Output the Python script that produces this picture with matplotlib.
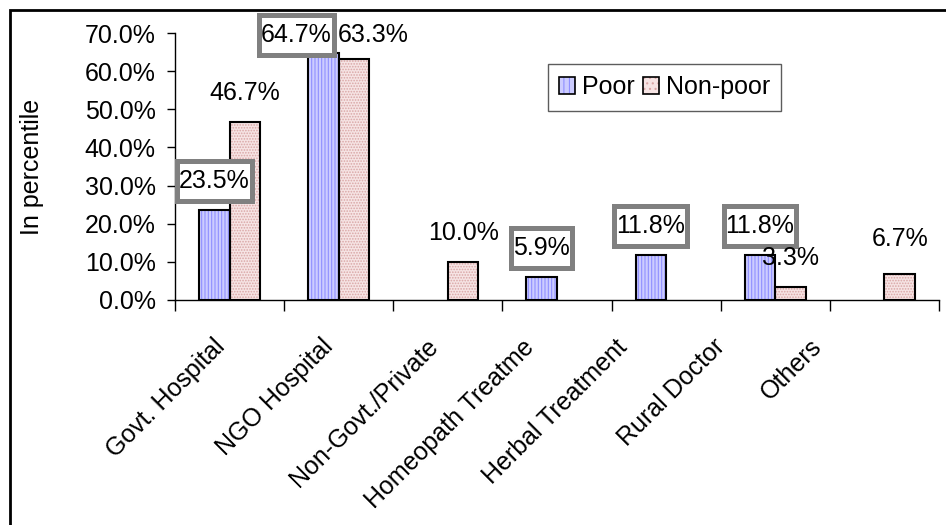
import matplotlib
matplotlib.use("Agg")
import matplotlib.pyplot as plt
import numpy as np
from matplotlib.patches import Patch, Rectangle
from matplotlib.path import Path
from matplotlib.transforms import ScaledTranslation

plt.rcParams['font.family'] = ['Liberation Sans', 'DejaVu Sans']
plt.rcParams['hatch.linewidth'] = 0.8

# --- data ---
categories = ["Govt. Hospital", "NGO Hospital", "Non-Govt./Private",
              "Homeopath Treatme", "Herbal Treatment", "Rural Doctor", "Others"]
poor = [23.5, 64.7, 0.0, 5.9, 11.8, 11.8, 0.0]
non_poor = [46.7, 63.3, 10.0, 0.0, 0.0, 3.3, 6.7]
series_names = ["Poor", "Non-poor"]

FS = 18
poor_fill, poor_hatch = "#ccccff", "#8f8fff"
np_fill, np_hatch = "#f6e4e4", "#d9a6a6"


def label_box(x0, y0, width, height, mutation_size):
    # rectangle with little side padding but tall top/bottom padding (Excel look)
    px, py = 0.08 * mutation_size, 0.32 * mutation_size
    x0, y0 = x0 - px, y0 - py
    x1, y1 = x0 + width + 2 * px, y0 + height + 2 * py
    return Path([(x0, y0), (x1, y0), (x1, y1), (x0, y1), (x0, y0)], closed=True)


fig = plt.figure(figsize=(9.46, 5.25), dpi=100)
ax = fig.add_axes([0.185, 0.4286, 0.8076, 0.5084])

# outer chart frame (runs off the right/bottom edge like the original)
fig.patches.append(Rectangle((10 / 946, -0.1), 1.2, 1 - 10 / 525 + 0.1,
                             transform=fig.transFigure, fill=False,
                             edgecolor="black", linewidth=2, zorder=0))

x = np.arange(len(categories))
w = 0.28
pv, nv = np.array(poor), np.array(non_poor)
pm, nm = pv > 0, nv > 0

# fills with hatch, then black outlines on top (zero bars are not drawn)
ax.bar(x[pm] - w / 2, pv[pm], w, color=poor_fill, edgecolor=poor_hatch, hatch="|||||", linewidth=0)
ax.bar(x[nm] + w / 2, nv[nm], w, color=np_fill, edgecolor=np_hatch, hatch="......", linewidth=0)
ax.bar(x[pm] - w / 2, pv[pm], w, fill=False, edgecolor="black", linewidth=1.5)
ax.bar(x[nm] + w / 2, nv[nm], w, fill=False, edgecolor="black", linewidth=1.5)

ax.set_xlim(-0.5, len(categories) - 0.5)
ax.set_ylim(0, 70)
ax.set_yticks(np.arange(0, 71, 10))
ax.set_yticklabels([f"{v:.1f}%" for v in np.arange(0, 71, 10)], fontsize=FS)
ax.tick_params(axis="y", length=6, width=1, direction="out", pad=8)

ax.set_xticks(x)
ax.set_xticklabels(categories, fontsize=FS, rotation=45, ha="right", va="top",
                   rotation_mode="anchor")
ax.set_xticks(np.arange(-0.5, len(categories)), minor=True)
ax.tick_params(axis="x", which="major", length=0, pad=25)
ax.tick_params(axis="x", which="minor", length=8, width=1, direction="out")
# Excel squeezes the rotated labels a bit to the left
label_shift = [-17, -18, -22, -35, -51, -63, -75]
for lbl, dx in zip(ax.get_xticklabels(), label_shift):
    lbl.set_transform(lbl.get_transform() + ScaledTranslation(dx / 100, 0, fig.dpi_scale_trans))

for s in ["top", "right"]:
    ax.spines[s].set_visible(False)
for s in ["left", "bottom"]:
    ax.spines[s].set_linewidth(1)

ax.set_ylabel("In percentile", fontsize=FS, labelpad=29)

# --- data labels ---
poor_nudge = {1: (-27, -11)}
np_nudge = {1: (19, -5), 6: (0, 6)}
for i, v in enumerate(poor):
    if v <= 0:
        continue
    dx, dy = poor_nudge.get(i, (0, 0))
    ax.annotate(f"{v:.1f}%", (x[i] - w / 2, v), xytext=(dx, 29 + dy),
                textcoords="offset pixels", ha="center", va="center", fontsize=FS,
                bbox=dict(boxstyle=label_box, facecolor="white",
                          edgecolor="#808080", linewidth=3.6), zorder=5)
for i, v in enumerate(non_poor):
    if v <= 0:
        continue
    dx, dy = np_nudge.get(i, (0, 0))
    ax.annotate(f"{v:.1f}%", (x[i] + w / 2, v), xytext=(dx, 29 + dy),
                textcoords="offset pixels", ha="center", va="center", fontsize=FS,
                zorder=5)

# --- legend ---
handles = [
    (Patch(facecolor=poor_fill, edgecolor=poor_hatch, hatch="|||", linewidth=0),
     Patch(fill=False, edgecolor="black", linewidth=1.2)),
    (Patch(facecolor=np_fill, edgecolor=np_hatch, hatch="...", linewidth=0),
     Patch(fill=False, edgecolor="black", linewidth=1.2)),
]
leg = ax.legend(handles, series_names, loc="upper left", bbox_to_anchor=(0.488, 0.884),
                ncol=2, fontsize=FS, frameon=True, fancybox=False, borderaxespad=0,
                handlelength=0.64, handleheight=0.64, handletextpad=0.28,
                columnspacing=0.32, borderpad=0.45)
leg.get_frame().set_edgecolor("#333333")
leg.get_frame().set_linewidth(1)

fig.savefig("out.png", dpi=100)
